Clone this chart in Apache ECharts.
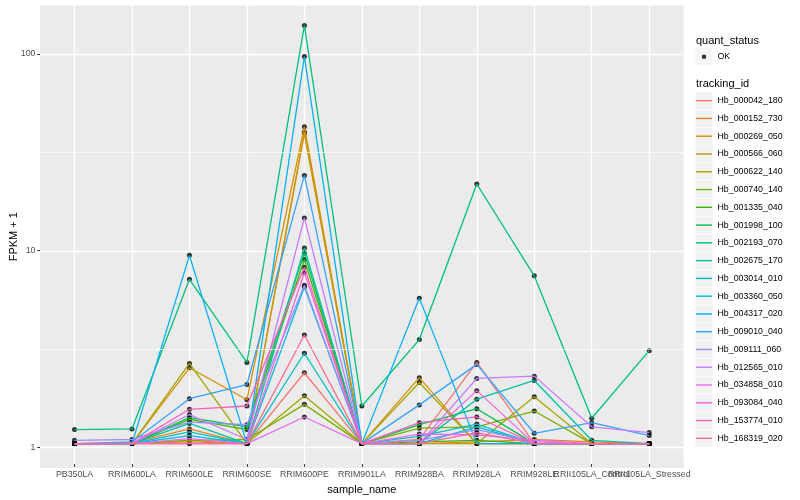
<!DOCTYPE html>
<html>
<head>
<meta charset="utf-8">
<script src="https://cdn.jsdelivr.net/npm/echarts@6/dist/echarts.min.js"></script>
<style>html,body{margin:0;padding:0;background:#fff}#c{width:800px;height:500px}</style>
</head>
<body>
<div id="c"></div>
<script>
// ---- data (FPKM + 1) ----
const categories = ['PB350LA','RRIM600LA','RRIM600LE','RRIM600SE','RRIM600PE','RRIM901LA','RRIM928BA','RRIM928LA','RRIM928LE','RRII105LA_Control','RRII105LA_Stressed'];
const trackingIds = ['Hb_000042_180','Hb_000152_730','Hb_000269_050','Hb_000566_060','Hb_000622_140','Hb_000740_140','Hb_001335_040','Hb_001998_100','Hb_002193_070','Hb_002675_170','Hb_003014_010','Hb_003360_050','Hb_004317_020','Hb_009010_040','Hb_009111_060','Hb_012565_010','Hb_034858_010','Hb_093084_040','Hb_153774_010','Hb_168319_020'];
const hb_000042_180 = [1.0, 1.0, 1.02, 1.0, 2.31, 1.0, 1.05, 2.61, 1.0, 1.0, 1.0];
const hb_000152_730 = [1.0, 1.01, 1.19, 1.0, 39.0, 1.0, 1.0, 1.02, 1.05, 1.02, 1.0];
const hb_000269_050 = [1.0, 1.0, 2.45, 1.68, 42.3, 1.0, 2.18, 1.0, 1.0, 1.0, 1.0];
const hb_000566_060 = [1.0, 1.0, 1.04, 1.0, 39.7, 1.0, 1.0, 1.0, 1.0, 1.0, 1.0];
const hb_000622_140 = [1.0, 1.0, 2.58, 1.0, 1.76, 1.0, 2.06, 1.0, 1.74, 1.0, 1.0];
const hb_000740_140 = [1.0, 1.0, 1.04, 1.05, 1.59, 1.0, 1.2, 1.22, 1.47, 1.0, 1.0];
const hb_001335_040 = [1.0, 1.0, 1.33, 1.18, 8.8, 1.0, 1.02, 1.04, 1.0, 1.0, 1.0];
const hb_001998_100 = [1.0, 1.0, 1.36, 1.22, 9.5, 1.0, 1.25, 1.51, 1.0, 1.0, 1.0];
const hb_002193_070 = [1.18, 1.19, 6.97, 2.61, 140, 1.56, 3.42, 21.5, 7.26, 1.35, 3.0];
const hb_002675_170 = [1.0, 1.0, 1.27, 1.0, 10.1, 1.0, 1.0, 1.69, 2.11, 1.04, 1.0];
const hb_003014_010 = [1.0, 1.0, 1.15, 1.0, 2.91, 1.0, 1.09, 1.26, 1.0, 1.0, 1.0];
const hb_003360_050 = [1.0, 1.0, 1.1, 1.0, 6.37, 1.0, 1.0, 1.22, 1.0, 1.0, 1.0];
const hb_004317_020 = [1.0, 1.0, 9.25, 1.0, 97, 1.0, 5.58, 1.0, 1.0, 1.0, 1.0];
const hb_009010_040 = [1.0, 1.02, 1.70, 2.01, 23.8, 1.0, 1.58, 2.55, 1.13, 1.28, 1.10];
const hb_009111_060 = [1.04, 1.05, 1.29, 1.25, 6.5, 1.0, 1.04, 1.18, 1.02, 1.0, 1.0];
const hb_012565_010 = [1.0, 1.0, 1.41, 1.05, 14.4, 1.0, 1.0, 2.16, 2.22, 1.22, 1.14];
const hb_034858_010 = [1.0, 1.0, 1.06, 1.0, 1.37, 1.0, 1.12, 1.11, 1.04, 1.0, 1.0];
const hb_093084_040 = [1.0, 1.0, 1.0, 1.0, 7.54, 1.0, 1.0, 1.87, 1.0, 1.0, 1.0];
const hb_153774_010 = [1.0, 1.0, 1.50, 1.56, 8.04, 1.0, 1.28, 1.37, 1.0, 1.0, 1.0];
const hb_168319_020 = [1.0, 1.0, 1.0, 1.0, 3.61, 1.0, 1.0, 1.14, 1.0, 1.0, 1.0];
const seriesValues = [hb_000042_180, hb_000152_730, hb_000269_050, hb_000566_060, hb_000622_140, hb_000740_140, hb_001335_040, hb_001998_100, hb_002193_070, hb_002675_170, hb_003014_010, hb_003360_050, hb_004317_020, hb_009010_040, hb_009111_060, hb_012565_010, hb_034858_010, hb_093084_040, hb_153774_010, hb_168319_020];
const yTickLabels = [1, 10, 100];
const quantStatus = ['OK'];

// ---- style ----
const palette = ['#F8766D','#EA8331','#D89000','#C09B00','#A3A500','#7CAE00','#39B600','#00BB4E','#00BF7D','#00C1A3','#00BFC4','#00BAE0','#00B0F6','#35A2FF','#9590FF','#C77CFF','#E76BF3','#FA62DB','#FF62BC','#FF6C91'];
const FONT = 'Liberation Sans, Arial, Helvetica, sans-serif';
const YMIN = 0.785, YMAX = 177.4;

const chart = echarts.init(document.getElementById('c'), null, {renderer: 'canvas'});

const series = [];
// minor grid lines of the panel
series.push({
  type: 'line', data: [], xAxisIndex: 0, yAxisIndex: 0, silent: true, animation: false,
  markLine: {silent: true, animation: false, symbol: ['none','none'], label: {show: false},
    lineStyle: {color: '#ffffff', width: 0.7, type: 'solid'},
    data: [{yAxis: Math.sqrt(10)}, {yAxis: Math.sqrt(1000)}]}
});
trackingIds.forEach((id, i) => {
  series.push({
    name: id, type: 'line', xAxisIndex: 1, yAxisIndex: 1,
    data: seriesValues[i], symbol: 'none', silent: true, animation: false,
    lineStyle: {color: palette[i], width: 1.3},
    itemStyle: {color: palette[i]}
  });
});
const pts = [];
seriesValues.forEach(vals => vals.forEach((v, j) => pts.push([categories[j], v])));
series.push({
  name: quantStatus[0], type: 'scatter', xAxisIndex: 1, yAxisIndex: 1,
  data: pts, symbol: 'circle', symbolSize: 5, silent: true, animation: false,
  itemStyle: {color: '#000000'}
});

const legendText = {fontFamily: FONT, fontSize: 8.8, color: '#000'};
const LEG_X = 695.5;
const option = {
  backgroundColor: '#ffffff',
  animation: false,
  textStyle: {fontFamily: FONT},
  grid: [
    {left: 40, right: 116.3, top: 5.4, bottom: 32, show: true, backgroundColor: '#EBEBEB', borderWidth: 0},
    {left: 74.5, right: 150.8, top: 5.4, bottom: 32, show: false},
    {left: 40, right: 116.3, top: 54.0, bottom: 52.7, show: false}
  ],
  xAxis: [
    {gridIndex: 0, type: 'value', min: 0, max: 1, show: false},
    {gridIndex: 1, type: 'category', data: categories, boundaryGap: false,
     axisLine: {show: false},
     axisTick: {show: true, interval: 0, length: 2.75, lineStyle: {color: '#333333', width: 1}},
     axisLabel: {interval: 0, color: '#4D4D4D', fontSize: 8.8, fontFamily: FONT, margin: 6},
     splitLine: {show: true, interval: 0, lineStyle: {color: '#ffffff', width: 1.4}},
     name: 'sample_name', nameLocation: 'middle', nameGap: 16,
     nameTextStyle: {color: '#000', fontSize: 11, fontFamily: FONT}},
    {gridIndex: 2, type: 'value', min: 0, max: 1, show: false}
  ],
  yAxis: [
    {gridIndex: 0, type: 'log', logBase: 10, min: YMIN, max: YMAX,
     axisLine: {show: false}, axisTick: {show: false}, axisLabel: {show: false},
     splitLine: {show: true, showMinLine: false, showMaxLine: false, lineStyle: {color: '#ffffff', width: 1.4}},
     minorTick: {show: false}, minorSplitLine: {show: false},
     name: 'FPKM + 1', nameLocation: 'middle', nameGap: 21,
     nameTextStyle: {color: '#000', fontSize: 11, fontFamily: FONT}},
    {gridIndex: 1, type: 'log', logBase: 10, min: YMIN, max: YMAX, show: false,
     splitLine: {show: false}},
    {gridIndex: 2, type: 'log', logBase: 10, min: yTickLabels[0], max: yTickLabels[yTickLabels.length - 1],
     axisLine: {show: false},
     axisTick: {show: true, length: 2.75, lineStyle: {color: '#333333', width: 1}},
     axisLabel: {color: '#4D4D4D', fontSize: 8.8, fontFamily: FONT, margin: 4.5,
       formatter: v => String(Math.round(v))},
     splitLine: {show: false}, minorTick: {show: false}, minorSplitLine: {show: false}}
  ],
  graphic: [
    {type: 'text', x: 696, y: 40.7, silent: true, style: {text: 'quant_status', fontSize: 11, fontFamily: FONT, fill: '#000', verticalAlign: 'middle'}},
    {type: 'text', x: 696, y: 84.3, silent: true, style: {text: 'tracking_id', fontSize: 11, fontFamily: FONT, fill: '#000', verticalAlign: 'middle'}}
  ],
  legend: [
    {data: quantStatus, orient: 'vertical', left: LEG_X, top: 48.2, padding: 0, selectedMode: false,
     icon: 'rect', itemWidth: 17, itemHeight: 17, itemGap: 0.77, z: 3,
     itemStyle: {color: '#F2F2F2', borderWidth: 0}, textStyle: Object.assign({}, legendText, {color: 'rgba(0,0,0,0)'})},
    {data: quantStatus, orient: 'vertical', left: LEG_X, top: 48.2, padding: 0, selectedMode: false,
     icon: 'path://M0,0 M17,17 M6.25,8.5 A2.25,2.25 0 1,0 10.75,8.5 A2.25,2.25 0 1,0 6.25,8.5 Z',
     itemWidth: 17, itemHeight: 17, itemGap: 0.77, z: 4,
     itemStyle: {color: '#000000', borderWidth: 0}, textStyle: legendText},
    {data: trackingIds, orient: 'vertical', left: LEG_X, top: 92.2, padding: 0, selectedMode: false,
     icon: 'rect', itemWidth: 17, itemHeight: 17, itemGap: 0.77, z: 3,
     itemStyle: {color: '#F2F2F2', borderWidth: 0}, lineStyle: {width: 0},
     textStyle: Object.assign({}, legendText, {color: 'rgba(0,0,0,0)'})},
    {data: trackingIds, orient: 'vertical', left: LEG_X, top: 92.2, padding: 0, selectedMode: false,
     icon: 'path://M0,0 M17,17 M0.5,7.8 L16.5,7.8 L16.5,9.2 L0.5,9.2 Z',
     itemWidth: 17, itemHeight: 17, itemGap: 0.77, z: 4,
     itemStyle: {borderWidth: 0}, lineStyle: {width: 0}, textStyle: legendText}
  ],
  series: series
};
chart.setOption(option);
</script>
</body>
</html>
